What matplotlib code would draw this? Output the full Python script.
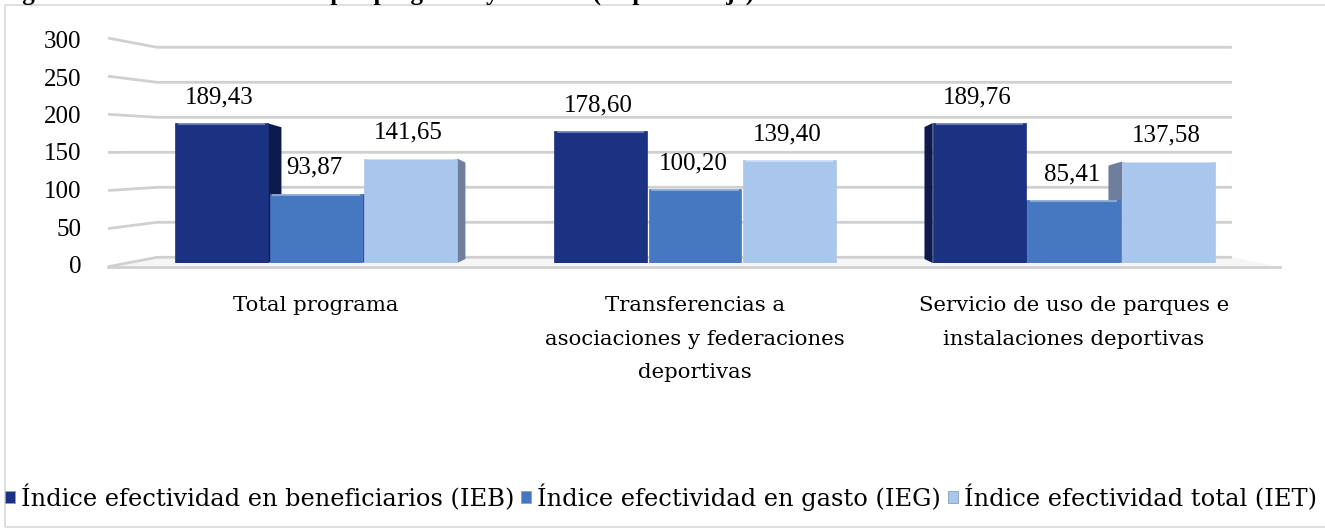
#!/usr/bin/env python3
import numpy as np
import matplotlib
matplotlib.use("Agg")
import matplotlib.pyplot as plt
from matplotlib.patches import Rectangle, Polygon, Patch

# data
categories = ["Total programa",
              "Transferencias a\nasociaciones y federaciones\ndeportivas",
              "Servicio de uso de parques e\ninstalaciones deportivas"]
series_names = ["Índice efectividad en beneficiarios (IEB)",
                "Índice efectividad en gasto (IEG)",
                "Índice efectividad total (IET)"]
ieb = [189.43, 178.60, 189.76]
ieg = [93.87, 100.20, 85.41]
iet = [141.65, 139.40, 137.58]
y_ticks = [0, 50, 100, 150, 200, 250, 300]

front_colors = ["#1b3282", "#4678c1", "#a9c6ec"]
side_colors = ["#0c1a4c", "#2f5491", "#6d7f9c"]

NUM_FONT = ["Liberation Serif", "DejaVu Serif"]   # numbers
WORD_FONT = ["DejaVu Serif"]                        # words (wider, closer to the original)
FS_NUM = 18
FS_CAT = 15.3
FS_LEG = 17.4

W, H = 1325, 529
fig = plt.figure(figsize=(W / 100, H / 100), dpi=100)

# chart frame
fig.patches.append(Rectangle((5 / W, 2 / H), 1.2, (H - 7) / H, transform=fig.transFigure,
                             fill=False, edgecolor="#d9d9d9", linewidth=1.2))

# title of the figure, cut by the top edge in the original (only descenders show)
fig.text(0 / W, 1 + 0.5 / H, "Figura 6. Índice de efectividad por programa y servicio (en porcentaje)",
         fontsize=FS_NUM, family=NUM_FONT, fontweight="bold", va="baseline", ha="left")

# axes: bar scale 0 at y=263px, 300 at y=41.7px
ax = fig.add_axes([108 / W, (H - 263) / H, 1172 / W, (263 - 41.7) / H])
ax.set_xlim(-0.549, 2.544)
ax.set_ylim(0, 300)
ax.axis("off")

px_per_unit = (263 - 41.7) / 300.0


def to_data(ypix):
    return (263 - ypix) / px_per_unit


def wall_y(v):
    return to_data(257.3 - 0.70 * v)


def front_y(v):
    return to_data(266.7 - 0.762 * v)


x_front_left, x_back_left, x_back_right, x_front_right = -0.549, -0.4195, 2.417, 2.544

# floor
floor = Polygon([(x_front_left, front_y(0)), (x_back_left, wall_y(0)), (x_back_right, wall_y(0)),
                 (x_front_right, front_y(0))], closed=True, facecolor="#f6f6f6", edgecolor="none",
                clip_on=False, zorder=0)
ax.add_patch(floor)

# gridlines on back wall with slanted left segment
for v in y_ticks:
    ax.plot([x_front_left, x_back_left, x_back_right], [front_y(v), wall_y(v), wall_y(v)],
            color="#d0d0d0", linewidth=2, clip_on=False, zorder=1, solid_capstyle="butt")
    ax.text(-0.62, to_data(267 - 0.75 * v), str(v), ha="right", va="center", fontsize=FS_NUM,
            family=NUM_FONT, clip_on=False)
ax.plot([x_front_left, x_front_right], [front_y(0), front_y(0)], color="#d0d0d0", linewidth=2,
        clip_on=False, zorder=1)

# bars
x = np.arange(len(categories))
width = 0.245
offsets = [-0.25, 0.0, 0.25]
center_px = 695.0
x_scale = 379.0
series = [ieb, ieg, iet]
for s, (vals, off) in enumerate(zip(series, offsets)):
    bars = ax.bar(x + off, vals, width=width, color=front_colors[s], zorder=4,
                  edgecolor=front_colors[s], linewidth=0.5)
    for b, v in zip(bars, vals):
        left = b.get_x()
        right = left + b.get_width()
        mid_px = 316 + (left + width / 2) * x_scale
        dist = (mid_px - center_px) * 0.029 / x_scale   # perspective side face
        if abs(dist) > 0.012:
            edge = right if dist < 0 else left
            s_edge = edge - dist
            sd = 4 / px_per_unit
            side = Polygon([(edge, 0), (edge, v), (s_edge, v - sd), (s_edge, sd)], closed=True,
                           facecolor=side_colors[s], edgecolor="none", zorder=3)
            ax.add_patch(side)
        # top highlight
        ax.plot([left + 0.01, right - 0.01], [v - 1.2, v - 1.2], color="white", alpha=0.35,
                linewidth=1.5, zorder=5)
        ax.annotate(f"{v:.2f}".replace(".", ","), (left + width / 2, v), xytext=(-2, 26),
                    textcoords="offset pixels", ha="center", va="center", fontsize=FS_NUM,
                    family=NUM_FONT, zorder=6)

# category labels
for i, cat in enumerate(categories):
    ax.text(i, to_data(296), cat, ha="center", va="top", fontsize=FS_CAT, family=WORD_FONT,
            linespacing=1.98, clip_on=False)

# legend
handles = [Patch(facecolor=front_colors[i], edgecolor="#8aa0c0", linewidth=0.6)
           for i in range(3)]
fig.legend(handles, series_names, loc="center left", bbox_to_anchor=(0.0, (H - 497) / H),
           ncol=3, frameon=False, prop={"family": WORD_FONT, "size": FS_LEG},
           handlelength=0.4, handleheight=0.4, handletextpad=0.25, columnspacing=0.3,
           borderaxespad=0.0, borderpad=0.2)

fig.savefig("out.png", dpi=100)
